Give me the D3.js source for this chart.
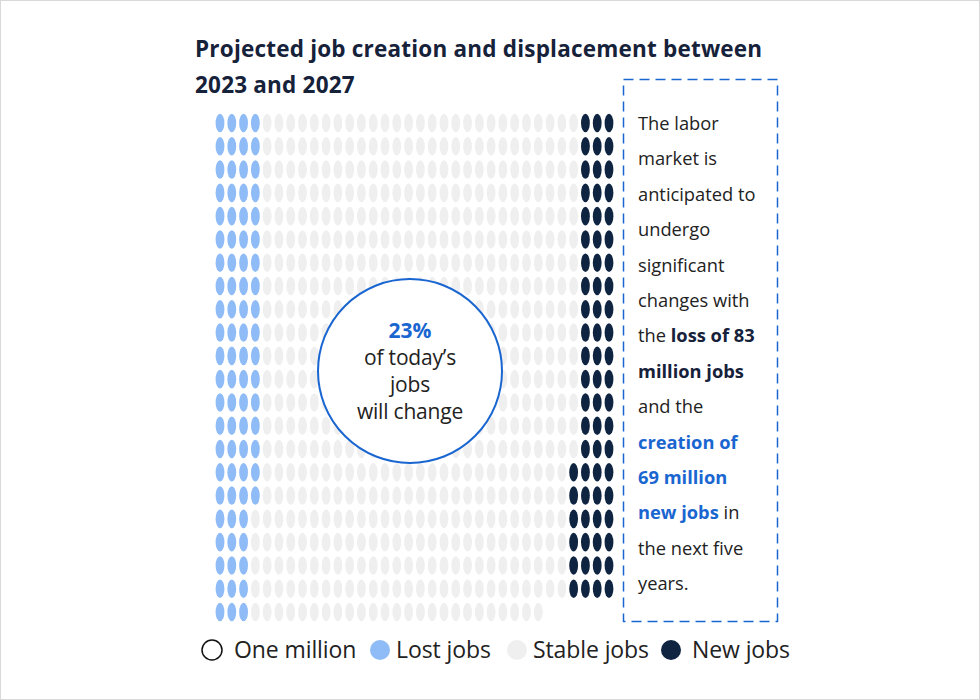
<!DOCTYPE html>
<html><head><meta charset="utf-8">
<script src="https://cdn.jsdelivr.net/npm/d3@7"></script>
<style>
html,body{margin:0;padding:0;background:#fff;}
svg{display:block;}
</style></head>
<body>
<svg id="chart" width="980" height="700"></svg>
<script>
// ---- data ----
const categories = ["Lost jobs", "Stable jobs", "New jobs"];
const values = [83, 590, 69];           // millions of jobs (1 mark = 1 million)
const colors = ["#8fbcf6", "#efefef", "#0e2440"];
const gridRowsCount = 22;
const legendLabels = ["One million", "Lost jobs", "Stable jobs", "New jobs"];
const titleLines = ["Projected job creation and displacement between", "2023 and 2027"];
const circleLines = ["23%", "of today\u2019s", "jobs", "will change"];
const noteLines = [
  [["The labor", 0]],
  [["market is", 0]],
  [["anticipated to", 0]],
  [["undergo", 0]],
  [["significant", 0]],
  [["changes with", 0]],
  [["the ", 0], ["loss of 83", 1]],
  [["million jobs", 1]],
  [["and the", 0]],
  [["creation of", 2]],
  [["69 million", 2]],
  [["new jobs", 2], [" in", 0]],
  [["the next five", 0]],
  [["years.", 0]]
];

// ---- layout of the unit grid ----
const total = d3.sum(values);
const nCols = Math.ceil(total / gridRowsCount);
const missing = nCols * gridRowsCount - total;          // cells absent from last row
const colHeight = c => (c < nCols - missing ? gridRowsCount : gridRowsCount - 1);

const cells = [];
for (let c = 0; c < nCols; c++) for (let r = 0; r < colHeight(c); r++) cells.push({c, r, k: 1});
// lost: column-major from the left, top-down
let n = values[0];
for (let c = 0; c < nCols && n > 0; c++)
  for (let r = 0; r < colHeight(c) && n > 0; r++) { cells.find(d => d.c === c && d.r === r).k = 0; n--; }
// new: column-major from the right, bottom-up
n = values[2];
for (let c = nCols - 1; c >= 0 && n > 0; c--)
  for (let r = colHeight(c) - 1; r >= 0 && n > 0; r--) { cells.find(d => d.c === c && d.r === r).k = 2; n--; }

const svg = d3.select("#chart");
svg.append("rect").attr("x", 0.5).attr("y", 0.5).attr("width", 979).attr("height", 699)
  .attr("fill", "#fff").attr("stroke", "#d9d9d9");

const x = d3.scaleLinear().domain([0, nCols - 1]).range([220, 609]);
const y = d3.scaleLinear().domain([0, gridRowsCount - 1]).range([123, 612]);
const color = d3.scaleOrdinal().domain([0, 1, 2]).range(colors);

// title
svg.append("g").selectAll("text").data(titleLines).join("text")
  .attr("x", 195).attr("y", (d, i) => 57 + i * 36)
  .attr("font-family", "'Open Sans', sans-serif").attr("font-weight", 700)
  .attr("font-size", 22.5).attr("fill", "#16213a").attr("letter-spacing", 0.2)
  .text(d => d);

// grid marks
svg.append("g").selectAll("ellipse").data(cells).join("ellipse")
  .attr("cx", d => x(d.c)).attr("cy", d => y(d.r))
  .attr("rx", 4.4).attr("ry", 9.3)
  .attr("fill", d => color(d.k));

// center circle
const cg = svg.append("g").attr("transform", "translate(410,371)");
cg.append("circle").attr("r", 92).attr("fill", "#fff").attr("stroke", "#1a66d1").attr("stroke-width", 2);
cg.selectAll("text").data(circleLines).join("text")
  .attr("text-anchor", "middle").attr("y", (d, i) => -33 + i * 27)
  .attr("font-family", "'Open Sans', sans-serif")
  .attr("font-size", 21)
  .attr("font-weight", (d, i) => i === 0 ? 700 : 400)
  .attr("letter-spacing", (d, i) => i === 0 ? 0 : -0.2)
  .attr("fill", (d, i) => i === 0 ? "#1a66d1" : "#222")
  .text(d => d);

// dashed note box
svg.append("rect").attr("x", 623.5).attr("y", 79.5).attr("width", 154).attr("height", 542)
  .attr("fill", "none").attr("stroke", "#1a66d1").attr("stroke-width", 1.5)
  .attr("stroke-dasharray", "10,6");
const noteColors = ["#222", "#16213a", "#1a66d1"];
const nt = svg.append("g").selectAll("text").data(noteLines).join("text")
  .attr("x", 638).attr("y", (d, i) => 130 + i * 35.4)
  .attr("font-family", "'Open Sans', sans-serif").attr("font-size", 18.3);
nt.selectAll("tspan").data(d => d).join("tspan")
  .attr("font-weight", d => d[1] ? 700 : 400)
  .attr("fill", d => noteColors[d[1]])
  .text(d => d[0]);

// legend
const legendX = [212, 380, 517, 671];
const legendFill = ["#fff", colors[0], colors[1], colors[2]];
const lg = svg.append("g").selectAll("g").data(legendLabels).join("g")
  .attr("transform", (d, i) => `translate(${legendX[i]},650)`);
lg.append("circle").attr("r", 10)
  .attr("fill", (d, i) => legendFill[i])
  .attr("stroke", (d, i) => i === 0 ? "#111" : "none").attr("stroke-width", 1.5);
lg.append("text").attr("x", (d, i) => i === 0 ? 22 : (i === 3 ? 21 : 16)).attr("y", 8)
  .attr("font-family", "'Open Sans', sans-serif").attr("font-size", 23)
  .attr("letter-spacing", -0.1).attr("fill", "#222")
  .text(d => d);
</script>
</body></html>
